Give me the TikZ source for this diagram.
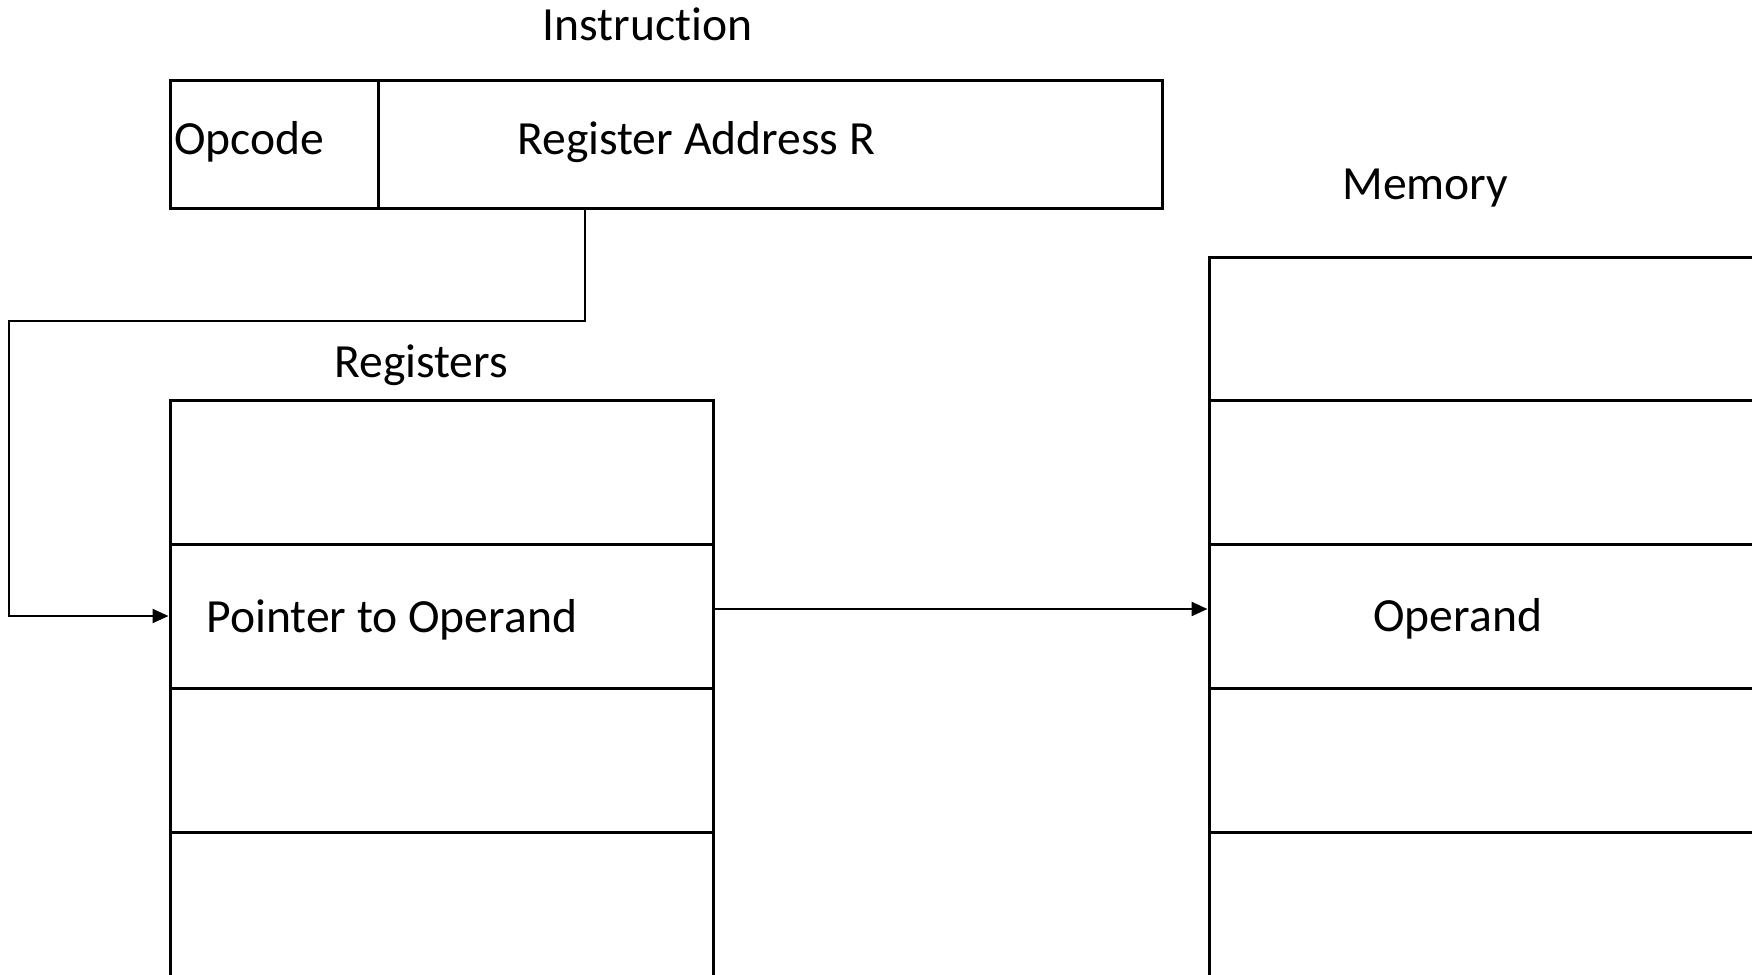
\documentclass[tikz,border=0pt]{standalone}
\usepackage{fontspec}
\setmainfont{Carlito}[Ligatures=NoCommon]
\usetikzlibrary{fit,arrows.meta}
\begin{document}
\begin{tikzpicture}[x=0.5pt,y=-0.5pt,
  cell/.style={draw,line width=1.5pt,inner sep=0pt},
  lbl/.style={inner sep=0pt,anchor=base west,font=\fontsize{23.8}{28}\selectfont},
  conn/.style={line width=1.2pt},
  arr/.style={conn,-{Triangle[length=8pt,width=7pt]}}]
\useasboundingbox (0,0) rectangle (1752,975);
% instruction
\node[cell,fit={(170,80)(378,208)}] (opc) {};
\node[cell,fit={(378,80)(1162,208)}] (ra) {};
\node[lbl] (tinst) at (542,40) {Instruction};
\node[lbl] (topc) at (174,154) {Opcode};
\node[lbl] (tra) at (517,154) {Register Address R};
% registers
\node[lbl] (treg) at (334,377) {Registers};
\node[cell,fit={(170,400)(713,544)}] (reg1) {};
\node[cell,fit={(170,544)(713,688)}] (reg2) {};
\node[cell,fit={(170,688)(713,832)}] (reg3) {};
\node[cell,fit={(170,832)(713,1010)}] (reg4) {};
\node[lbl] (tptr) at (206,632) {Pointer to Operand};
% memory
\node[lbl] (tmem) at (1342,199) {Memory};
\node[cell,fit={(1209,257)(1790,400)}] (mem1) {};
\node[cell,fit={(1209,400)(1790,544)}] (mem2) {};
\node[cell,fit={(1209,544)(1790,688)}] (mem3) {};
\node[cell,fit={(1209,688)(1790,832)}] (mem4) {};
\node[cell,fit={(1209,832)(1790,1010)}] (mem5) {};
\node[lbl] (topd) at (1373,631) {Operand};
% connectors
\coordinate (c1) at (585,321);
\coordinate (c2) at (9,321);
\draw[arr] (ra.south -| c1) -- (c1) -- (c2) |- (reg2.west);
\draw[arr] ([yshift=3.5pt]reg2.east) -- ([yshift=3.5pt]mem3.west);
\end{tikzpicture}
\end{document}
